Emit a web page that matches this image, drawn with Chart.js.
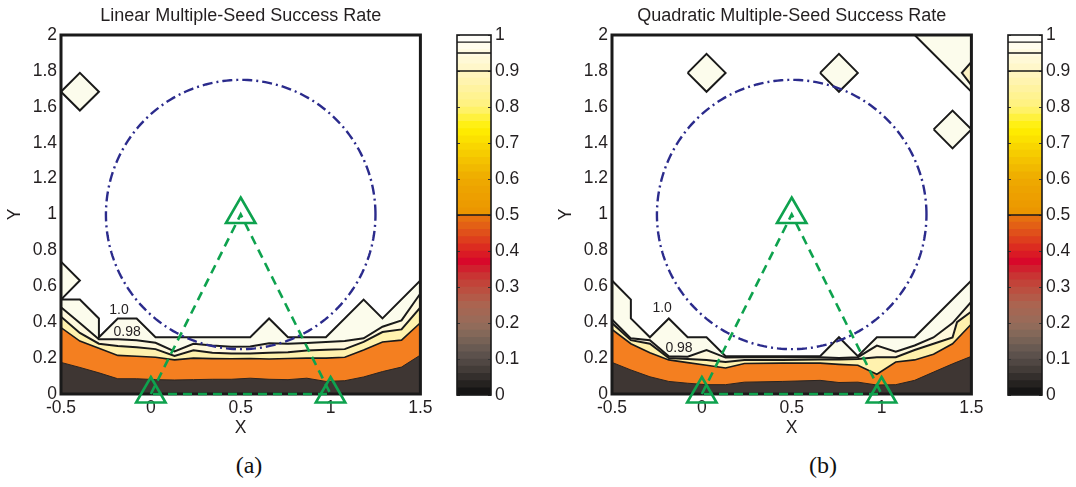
<!DOCTYPE html>
<html><head><meta charset="utf-8">
<script src="https://cdn.jsdelivr.net/npm/chart.js@4.4.0/dist/chart.umd.min.js"></script>
<style>
html,body{margin:0;padding:0;background:#fff;}
#wrap{position:relative;width:1076px;height:487px;overflow:hidden;background:#fff;}
canvas{position:absolute;top:0;}
.cap{position:absolute;top:450px;width:60px;text-align:center;font-family:"Liberation Serif","DejaVu Serif",serif;font-size:24px;color:#111;line-height:30px;}
</style></head>
<body><div id="wrap">
<canvas id="mainA" width="440" height="440" style="left:0px"></canvas>
<canvas id="barA" width="75" height="440" style="left:450px"></canvas>
<canvas id="mainB" width="440" height="440" style="left:551px"></canvas>
<canvas id="barB" width="75" height="440" style="left:1001px"></canvas>
<div class="cap" style="left:219px">(a)</div>
<div class="cap" style="left:793px">(b)</div>
</div>
<script>
// ---------- axes / ticks ----------
const xRange = [-0.5, 1.5];
const yRange = [0, 2];
const xTickValues = [-0.5, 0, 0.5, 1, 1.5];
const yTickValues = [0, 0.2, 0.4, 0.6, 0.8, 1, 1.2, 1.4, 1.6, 1.8, 2];
const cbTickValues = [0, 0.1, 0.2, 0.3, 0.4, 0.5, 0.6, 0.7, 0.8, 0.9, 1];
const cbLevels = [0.98, 0.95, 0.9, 0.5];

// ---------- panel (a): Linear contour lines (x, y) ----------
const aLevel100 = [[-0.5,0.737],[-0.395,0.632],[-0.5,0.526],[-0.395,0.526],[-0.289,0.421],[-0.289,0.316],[-0.184,0.421],[-0.079,0.421],[0.026,0.316],[0.553,0.316],[0.658,0.421],[0.763,0.316],[0.974,0.316],[1.184,0.526],[1.289,0.421],[1.5,0.632]];
const aLevel098 = [[-0.5,0.483],[-0.395,0.395],[-0.289,0.305],[-0.184,0.305],[-0.079,0.3],[0.026,0.285],[0.132,0.237],[0.237,0.28],[0.342,0.27],[0.447,0.263],[0.553,0.265],[0.658,0.283],[0.763,0.28],[0.868,0.284],[0.974,0.29],[1.079,0.295],[1.184,0.31],[1.289,0.375],[1.395,0.41],[1.5,0.56]];
const aLevel095 = [[-0.5,0.431],[-0.395,0.34],[-0.289,0.28],[-0.184,0.268],[-0.079,0.26],[0.026,0.25],[0.132,0.212],[0.237,0.243],[0.342,0.23],[0.447,0.225],[0.553,0.226],[0.658,0.23],[0.763,0.232],[0.868,0.243],[0.974,0.246],[1.079,0.25],[1.184,0.29],[1.289,0.345],[1.395,0.36],[1.5,0.483]];
const aLevel090 = [[-0.5,0.37],[-0.395,0.295],[-0.289,0.255],[-0.184,0.215],[-0.079,0.21],[0.026,0.205],[0.132,0.19],[0.237,0.2],[0.342,0.197],[0.447,0.196],[0.553,0.198],[0.658,0.195],[0.763,0.198],[0.868,0.2],[0.974,0.2],[1.079,0.205],[1.184,0.245],[1.289,0.29],[1.395,0.3],[1.5,0.397]];
const aLevel050 = [[-0.5,0.176],[-0.395,0.148],[-0.289,0.118],[-0.184,0.085],[-0.079,0.085],[0.026,0.08],[0.132,0.078],[0.237,0.08],[0.342,0.082],[0.447,0.082],[0.553,0.088],[0.658,0.082],[0.763,0.08],[0.868,0.088],[0.974,0.07],[1.079,0.074],[1.184,0.095],[1.289,0.125],[1.395,0.15],[1.5,0.217]];
const aIsland1 = [[-0.5,1.684],[-0.395,1.789],[-0.289,1.684],[-0.395,1.579]];
const aLabels = [{text:'1.0', x:-0.177, y:0.468},{text:'0.98', x:-0.132, y:0.345}];

// ---------- panel (b): Quadratic contour lines (x, y) ----------
const bLevel100 = [[-0.5,0.632],[-0.395,0.526],[-0.395,0.421],[-0.289,0.316],[-0.184,0.421],[-0.079,0.316],[0.026,0.316],[0.132,0.211],[0.658,0.211],[0.763,0.316],[0.868,0.211],[0.974,0.316],[1.184,0.316],[1.5,0.632]];
const bLevel098 = [[-0.5,0.415],[-0.395,0.31],[-0.289,0.3],[-0.184,0.21],[-0.079,0.208],[0.026,0.245],[0.132,0.203],[0.237,0.205],[0.447,0.205],[0.658,0.205],[0.763,0.2],[0.868,0.205],[0.974,0.27],[1.079,0.235],[1.184,0.27],[1.289,0.315],[1.395,0.395],[1.5,0.514]];
const bLevel095 = [[-0.5,0.395],[-0.395,0.3],[-0.289,0.28],[-0.184,0.2],[-0.079,0.195],[0.026,0.19],[0.132,0.178],[0.237,0.19],[0.447,0.19],[0.658,0.192],[0.763,0.192],[0.868,0.195],[0.974,0.205],[1.079,0.205],[1.184,0.245],[1.289,0.28],[1.395,0.315],[1.42,0.4],[1.5,0.46]];
const bLevel090 = [[-0.5,0.36],[-0.395,0.28],[-0.289,0.23],[-0.184,0.19],[-0.079,0.175],[0.026,0.16],[0.132,0.145],[0.237,0.17],[0.447,0.172],[0.658,0.172],[0.763,0.165],[0.868,0.16],[0.974,0.11],[1.079,0.178],[1.184,0.19],[1.289,0.222],[1.395,0.28],[1.5,0.39]];
const bLevel050 = [[-0.5,0.176],[-0.395,0.134],[-0.289,0.096],[-0.184,0.07],[-0.079,0.06],[0.026,0.052],[0.132,0.052],[0.237,0.066],[0.447,0.07],[0.658,0.076],[0.763,0.064],[0.868,0.066],[0.974,0.05],[1.079,0.052],[1.184,0.076],[1.289,0.122],[1.395,0.168],[1.5,0.21]];
const bIsland1 = [[-0.079,1.789],[0.026,1.895],[0.132,1.789],[0.026,1.684]];
const bIsland2 = [[0.658,1.789],[0.763,1.895],[0.868,1.789],[0.763,1.684]];
const bIsland3 = [[1.29,1.474],[1.395,1.579],[1.5,1.474],[1.395,1.368]];
const bIsland4 = [[1.184,2],[1.5,2],[1.5,1.684]];
const bIsland5 = [[1.5,1.85],[1.447,1.789],[1.5,1.72]];
const bLabels = [{text:'1.0', x:-0.221, y:0.479},{text:'0.98', x:-0.127, y:0.256}];

// ---------- overlays ----------
const circleCenter = [0.5, 1.0];
const circleRadius = 0.75;
const seedX = [0, 0.5, 1];
const seedY = [0, 1, 0];

// ---------- styles ----------
const TXT = '#231f20';
const FONT = "'Liberation Sans', Arial, Helvetica, sans-serif";
const bandColors = ['#fcfcec', '#fff9dc', '#fff2ae', '#f47f20', '#3e3633'];
const lineColors = ['#1a1a1a', '#1a1a1a', '#1a1a1a', '#1a1a1a', '#2a2421'];
const lineWidths = [2, 2, 2, 1.6, 1];
const ivory = '#fcfcec';
const cmapStops = [
  [0.00,'#0f0f0f'],[0.04,'#2c2826'],[0.08,'#4a423e'],[0.12,'#625650'],[0.16,'#7e6658'],
  [0.20,'#976c5a'],[0.25,'#ab6450'],[0.30,'#bf4a3c'],[0.34,'#cc2c30'],[0.37,'#d8082a'],
  [0.41,'#dc2c20'],[0.45,'#e0501a'],[0.50,'#e8780e'],[0.50,'#eb9400'],[0.60,'#eeaa00'],
  [0.67,'#f6cc00'],[0.74,'#fff000'],[0.80,'#fff27a'],[0.86,'#fff3a8'],[0.90,'#fff6c4'],
  [0.95,'#fffbe2'],[0.98,'#fffdf2'],[1.00,'#ffffff']
];
const cbBandCount = 50;

Chart.defaults.font.family = FONT;
Chart.defaults.color = TXT;

const fmt = v => String(Math.round(v * 10) / 10);
const toPts = arr => arr.map(([x, y]) => ({x, y}));
const ring = arr => toPts([...arr, arr[0]]);
const bandPolygon = arr => toPts([...arr, [xRange[1], yRange[0]], [xRange[0], yRange[0]]]);

const framePlugin = {
  id: 'frameBefore',
  beforeDatasetDraw(chart, args) {
    const ds = chart.data.datasets[args.index];
    if (!ds.frameBefore) return;
    const a = chart.chartArea, ctx = chart.ctx;
    ctx.save();
    ctx.lineWidth = 3; ctx.strokeStyle = '#1a1a1a';
    ctx.strokeRect(a.left, a.top, a.right - a.left, a.bottom - a.top);
    ctx.restore();
  }
};
function labelPlugin(items) {
  return {
    id: 'clabels',
    afterDatasetsDraw(chart) {
      const {ctx, scales} = chart;
      ctx.save();
      ctx.font = '14px ' + FONT; ctx.fillStyle = TXT;
      ctx.textAlign = 'center'; ctx.textBaseline = 'middle';
      items.forEach(it => ctx.fillText(it.text, scales.x.getPixelForValue(it.x), scales.y.getPixelForValue(it.y)));
      ctx.restore();
    }
  };
}

function mainChart(id, title, levels, islands, labels) {
  const datasets = [];
  levels.forEach((pts, i) => datasets.push({
    data: bandPolygon(pts), fill: 'shape', backgroundColor: bandColors[i],
    borderWidth: 0, pointRadius: 0, order: 40 - i
  }));
  levels.forEach((pts, i) => datasets.push({
    data: toPts(pts), fill: false, borderColor: lineColors[i], borderWidth: lineWidths[i],
    pointRadius: 0, order: 30 - i
  }));
  islands.forEach((isl, i) => datasets.push({
    data: ring(isl.pts), fill: 'shape', backgroundColor: isl.color, borderColor: '#1a1a1a',
    borderWidth: 2, pointRadius: 0, order: 20 - i
  }));
  const circ = [];
  for (let k = 0; k <= 240; k++) {
    const t = 2 * Math.PI * k / 240;
    circ.push({x: circleCenter[0] + circleRadius * Math.cos(t), y: circleCenter[1] + circleRadius * Math.sin(t)});
  }
  datasets.push({data: circ, fill: false, borderColor: '#2b2b8c', borderWidth: 2.4,
    borderDash: [10, 4, 2, 4], pointRadius: 0, order: 5, frameBefore: true});
  const seeds = seedX.map((x, i) => [x, seedY[i]]);
  datasets.push({data: ring(seeds), fill: false, borderColor: '#0ea24e', borderWidth: 2.6,
    borderDash: [9, 6], pointRadius: 0, order: 4, clip: false});
  datasets.push({data: toPts(seeds), showLine: false, pointStyle: 'triangle', pointRadius: 17,
    pointBorderWidth: 2.6, pointBorderColor: '#0ea24e', pointBackgroundColor: 'rgba(0,0,0,0)',
    order: 3, clip: false});

  return new Chart(document.getElementById(id), {
    type: 'line',
    data: {datasets},
    options: {
      responsive: false, animation: false, devicePixelRatio: 1, events: [],
      elements: {line: {tension: 0}},
      layout: {padding: {left: 0, right: 19, top: 0, bottom: 0}},
      plugins: {
        legend: {display: false}, tooltip: {enabled: false},
        title: {display: true, text: title, fullSize: false, color: TXT,
          font: {size: 18, weight: 'normal'}, padding: {top: 5, bottom: 8.4}}
      },
      scales: {
        x: {type: 'linear', min: xRange[0], max: xRange[1],
          grid: {display: false, drawTicks: false}, border: {display: false},
          afterBuildTicks: s => { s.ticks = xTickValues.map(value => ({value})); },
          ticks: {callback: fmt, font: {size: 17.5}, color: TXT, padding: 4, maxRotation: 0, autoSkip: false},
          title: {display: true, text: 'X', font: {size: 17.5}, color: TXT, padding: {top: 0, bottom: 1}},
          afterFit: s => { s.height = 46; }},
        y: {type: 'linear', min: yRange[0], max: yRange[1],
          grid: {display: false, drawTicks: false}, border: {display: false},
          afterBuildTicks: s => { s.ticks = yTickValues.map(value => ({value})); },
          ticks: {callback: fmt, font: {size: 17.5}, color: TXT, padding: 4, autoSkip: false},
          title: {display: true, text: 'Y', font: {size: 17.5}, color: TXT, padding: {top: 4.5, bottom: 0}},
          afterFit: s => { s.width = 61; }}
      }
    },
    plugins: [framePlugin, labelPlugin(labels)]
  });
}

function hexToRgb(h) { return [1, 3, 5].map(i => parseInt(h.substr(i, 2), 16)); }
function cmap(v) {
  for (let i = 0; i < cmapStops.length - 1; i++) {
    const [a, ca] = cmapStops[i], [b, cb] = cmapStops[i + 1];
    if (b > a && v >= a && v <= b) {
      const t = (v - a) / (b - a), A = hexToRgb(ca), B = hexToRgb(cb);
      return 'rgb(' + A.map((c, k) => Math.round(c + (B[k] - c) * t)).join(',') + ')';
    }
  }
  return cmapStops[cmapStops.length - 1][1];
}

const cbPlugin = {
  id: 'cbDecor',
  afterDatasetsDraw(chart) {
    const {ctx, chartArea: a, scales: {y}} = chart;
    ctx.save();
    ctx.strokeStyle = '#333'; ctx.lineWidth = 1;
    cbTickValues.forEach(v => {
      const py = Math.round(y.getPixelForValue(v)) + 0.5;
      ctx.beginPath(); ctx.moveTo(a.left, py); ctx.lineTo(a.left + 3, py);
      ctx.moveTo(a.right - 3, py); ctx.lineTo(a.right, py); ctx.stroke();
    });
    ctx.strokeStyle = '#1a1a1a'; ctx.lineWidth = 1.3;
    cbLevels.forEach(v => {
      const py = y.getPixelForValue(v);
      ctx.beginPath(); ctx.moveTo(a.left, py); ctx.lineTo(a.right, py); ctx.stroke();
    });
    ctx.lineWidth = 1.6; ctx.strokeStyle = '#1a1a1a';
    ctx.strokeRect(a.left, a.top, a.right - a.left, a.bottom - a.top);
    ctx.restore();
  }
};

function colorbar(id) {
  const datasets = [];
  for (let i = 0; i < cbBandCount; i++) {
    const lo = i / cbBandCount, hi = (i + 1) / cbBandCount;
    datasets.push({data: [[i === 0 ? lo : lo - 0.004, hi]], backgroundColor: cmap((lo + hi) / 2),
      borderWidth: 0, barPercentage: 1, categoryPercentage: 1, grouped: false});
  }
  return new Chart(document.getElementById(id), {
    type: 'bar',
    data: {labels: [''], datasets},
    options: {
      responsive: false, animation: false, devicePixelRatio: 1, events: [],
      layout: {padding: {left: 7, right: 0, top: 35, bottom: 45}},
      plugins: {legend: {display: false}, tooltip: {enabled: false}},
      scales: {
        x: {display: false},
        y: {position: 'right', min: 0, max: 1,
          grid: {display: false, drawTicks: false}, border: {display: false},
          afterBuildTicks: s => { s.ticks = cbTickValues.map(value => ({value})); },
          ticks: {callback: fmt, font: {size: 17.5}, color: TXT, padding: 4, autoSkip: false},
          afterFit: s => { s.width = 34; }}
      }
    },
    plugins: [cbPlugin]
  });
}

mainChart('mainA', 'Linear Multiple-Seed Success Rate',
  [aLevel100, aLevel098, aLevel095, aLevel090, aLevel050],
  [{pts: aIsland1, color: ivory}], aLabels);
mainChart('mainB', 'Quadratic Multiple-Seed Success Rate',
  [bLevel100, bLevel098, bLevel095, bLevel090, bLevel050],
  [{pts: bIsland1, color: ivory}, {pts: bIsland2, color: ivory}, {pts: bIsland3, color: ivory},
   {pts: bIsland4, color: ivory}, {pts: bIsland5, color: '#fdf3c4'}], bLabels);
colorbar('barA');
colorbar('barB');
</script>
</body></html>
